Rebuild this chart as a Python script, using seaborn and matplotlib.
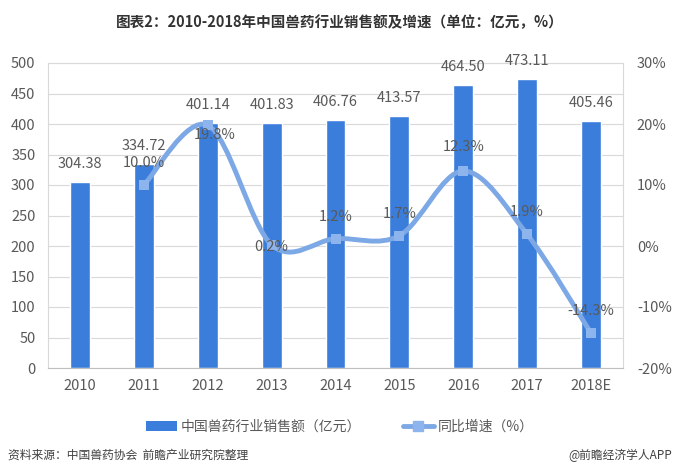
import numpy as np
import pandas as pd
import matplotlib
matplotlib.use('Agg')
import matplotlib.pyplot as plt
import seaborn as sns
from matplotlib.path import Path
from matplotlib.patches import PathPatch, Patch
from matplotlib.lines import Line2D
from matplotlib.ticker import FuncFormatter

# ---- data ----
years = ['2010', '2011', '2012', '2013', '2014', '2015', '2016', '2017', '2018E']
sales = [304.38, 334.72, 401.14, 401.83, 406.76, 413.57, 464.50, 473.11, 405.46]
growth_years = ['2011', '2012', '2013', '2014', '2015', '2016', '2017', '2018E']
growth = [10.0, 19.8, 0.2, 1.2, 1.7, 12.3, 1.9, -14.3]
left_ticks = list(range(0, 501, 50))
right_ticks = list(range(-20, 31, 10))

title = '图表2：2010-2018年中国兽药行业销售额及增速（单位：亿元，%）'
bar_name = '中国兽药行业销售额（亿元）'
line_name = '同比增速（%）'
source = '资料来源：中国兽药协会  前瞻产业研究院整理'
brand = '@前瞻经济学人APP'

# label offsets (pixels) for growth labels: style only
lab_dx = [0, 7, 0, 0, 0, 0, 0, 0]
lab_dy = [22, -10, -2, 22, 22, 24, 22, 22]

BAR = '#3B7DDB'
LINE = '#7DA8E6'
TXT = '#595959'
GRID = '#D9D9D9'

sns.set_theme(style='white')
plt.rcParams['font.family'] = ['Noto Sans CJK SC', 'DejaVu Sans']
plt.rcParams['axes.unicode_minus'] = False

fig = plt.figure(figsize=(6.8, 4.75), dpi=100)
ax = fig.add_axes([48 / 680, 1 - 368 / 475, (623 - 48) / 680, (368 - 63) / 475])

df = pd.DataFrame({'year': years, 'sales': sales})
sns.barplot(data=df, x='year', y='sales', color=BAR, saturation=1, width=0.31, ax=ax)
ax.set_xlim(-0.5, len(years) - 0.5)
ax.set_ylim(0, 500)
ax.set_yticks(left_ticks)
ax.set_xlabel('')
ax.set_ylabel('')
ax.yaxis.grid(True, color=GRID, lw=0.8)
ax.xaxis.grid(False)
ax.set_axisbelow(True)
for s in ['left', 'right', 'top']:
    ax.spines[s].set_color(GRID)
    ax.spines[s].set_linewidth(0.8)
ax.spines['bottom'].set_color('#BFBFBF')
ax.spines['bottom'].set_linewidth(0.8)
ax.tick_params(axis='both', length=0, labelsize=10.5, labelcolor=TXT)
ax.tick_params(axis='y', pad=9)
ax.tick_params(axis='x', pad=8)
ax.bar_label(ax.containers[0], fmt='%.2f', padding=8, fontsize=10.5, color=TXT)

ax2 = ax.twinx()
ax2.set_ylim(-20, 30)
ax2.set_yticks(right_ticks)
ax2.yaxis.set_major_formatter(FuncFormatter(lambda v, p: f'{v:.0f}%'))
ax2.tick_params(axis='y', length=0, labelsize=10.5, labelcolor=TXT, pad=10)
for s in ax2.spines.values():
    s.set_visible(False)
ax2.grid(False)

xpos = np.array([years.index(y) for y in growth_years], dtype=float)
pts = np.column_stack([xpos, np.array(growth, dtype=float)])
n = len(pts)
verts = [pts[0]]
codes = [Path.MOVETO]
for i in range(n - 1):
    p0 = pts[i - 1] if i > 0 else pts[i]
    p1 = pts[i]
    p2 = pts[i + 1]
    p3 = pts[i + 2] if i + 2 < n else pts[i + 1]
    c1 = p1 + (p2 - p0) / 6.0
    c2 = p2 - (p3 - p1) / 6.0
    verts += [c1, c2, p2]
    codes += [Path.CURVE4] * 3
ax2.add_patch(PathPatch(Path(verts, codes), facecolor='none', edgecolor=LINE,
                        lw=3.5, capstyle='round', joinstyle='round',
                        transform=ax2.transData, zorder=3))
sns.scatterplot(x=xpos, y=growth, marker='s', s=45, color='#8DB4EC', linewidth=0,
                ax=ax2, zorder=4, legend=False)
for x, v, dx, dy in zip(xpos, growth, lab_dx, lab_dy):
    ax2.annotate(f'{v:.1f}%', (x, v), xytext=(dx, dy), textcoords='offset pixels',
                 ha='center', va='center', fontsize=10.5, color=TXT, zorder=5)

handles = [Patch(facecolor=BAR, edgecolor='none'),
           Line2D([0], [0], color=LINE, lw=3.5, marker='s', ms=6.5,
                  mfc='#8DB4EC', mec='#8DB4EC')]
fig.legend(handles, [bar_name, line_name], loc='center',
           bbox_to_anchor=(0.5, 1 - 427 / 475), ncol=2, frameon=False,
           fontsize=10, handlelength=2.2, handleheight=0.8, columnspacing=3.0,
           handletextpad=0.3, labelcolor=TXT)

fig.text(0.5, 1 - 22 / 475, title, ha='center', va='center', fontsize=10.5,
         fontweight='bold', color='#333333')
fig.text(8 / 680, 1 - 455 / 475, source, ha='left', va='center', fontsize=8.5,
         color='#404040')
fig.text(672 / 680, 1 - 455 / 475, brand, ha='right', va='center', fontsize=8.5,
         color='#404040')

fig.savefig('out.png', dpi=100)
